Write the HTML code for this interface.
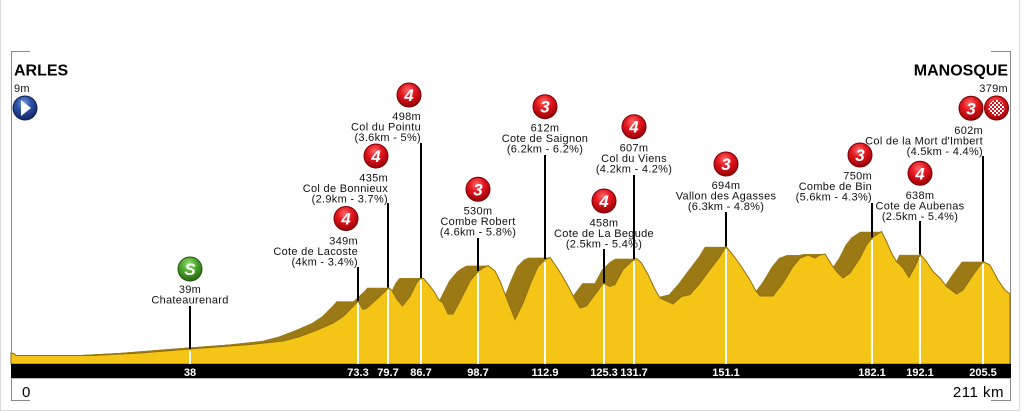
<!DOCTYPE html>
<html><head><meta charset="utf-8"><style>
html,body{margin:0;padding:0;background:#fff;width:1022px;height:412px;overflow:hidden}
svg{display:block}
text{font-family:"Liberation Sans",Arial,sans-serif}
.lb{font-size:11px;fill:#111;letter-spacing:0.3px}
.km{font-size:11px;font-weight:bold;fill:#fff;text-anchor:middle}
.bn{font-size:17px;font-weight:bold;font-style:italic;fill:#fff;text-anchor:middle}
</style></head><body>
<svg width="1022" height="412" viewBox="0 0 1022 412" xmlns="http://www.w3.org/2000/svg" xmlns:xlink="http://www.w3.org/1999/xlink">
<defs>
<radialGradient id="gr" cx="45%" cy="30%" r="70%"><stop offset="0" stop-color="#ff6a6a"/><stop offset="0.45" stop-color="#e3161e"/><stop offset="1" stop-color="#980006"/></radialGradient>
<radialGradient id="gg" cx="45%" cy="30%" r="70%"><stop offset="0" stop-color="#9fe07a"/><stop offset="0.45" stop-color="#4ea82f"/><stop offset="1" stop-color="#2a6a12"/></radialGradient>
<radialGradient id="gb" cx="45%" cy="30%" r="70%"><stop offset="0" stop-color="#7a9be6"/><stop offset="0.45" stop-color="#2c4fa3"/><stop offset="1" stop-color="#122768"/></radialGradient>
<pattern id="chk" x="0" y="0" width="4" height="4" patternUnits="userSpaceOnUse"><rect width="4" height="4" fill="#d8141c"/><rect width="2" height="2" fill="#fff"/><rect x="2" y="2" width="2" height="2" fill="#fff"/></pattern>
<clipPath id="clipR"><rect x="11" y="0" width="1000" height="364"/></clipPath>
<polygon id="prof" points="11,353 14,353.5 16,355.5 93,355.5 140,353 190,349 230,346 250,344.5 283,341 300,336.5 317,330 333,323 343,316.5 353,306.5 358,301 363,309.5 367,308 378,298 385,291.5 388.5,287.5 392,290.5 397,299.5 402.5,306 410,296.5 416.5,283 420.5,278 423.5,278.5 430,286 435,293 438.5,299.5 443,303 448,314 453,314 460,301 470,281 478,271.5 483,268 488,265.5 495,271 500,281 506.5,298 515,319.5 523,303 531.5,281 538,266.5 545,259.5 550,257.5 555,264.5 561.5,274.5 568,286 575,299.5 580,308 586.5,306 595,294.5 603.5,283 610,286.5 615,284.5 623,269.5 631.5,261.5 636.5,258.5 641.5,263 648,274.5 655,289.5 660,298 673,304 681.5,296.5 690,294.5 700,283 710,269.5 720,256.5 726,246.5 731.5,253 740,264.5 750,280 755,289.5 760,296 773,296 783,283 793,266.5 800,258 808,255 815,258 820,255 825,254 831.5,264.5 836.5,271.5 843,278 850,273 860,258 866.5,245 872.5,237.5 881.5,231.5 886.5,241.5 891.5,253 896.5,261.5 903,268 909,277.5 915,266.5 920.5,254.5 926.5,261.5 933,271.5 940,278 946.5,286.5 956.5,294 963,290 973,275 983,261.5 990,265 998,280 1005,290 1010,294 1010,364 11,364"/>
</defs>

<!-- outer border -->
<line x1="0.5" y1="0" x2="0.5" y2="411" stroke="#d9d9d9" stroke-width="1"/>
<line x1="1019.5" y1="0" x2="1019.5" y2="411" stroke="#d9d9d9" stroke-width="1"/>
<line x1="0" y1="410.5" x2="1020" y2="410.5" stroke="#d9d9d9" stroke-width="1"/>

<!-- inner frame -->
<path d="M30,51.5 H11.5 V400.5 H30" fill="none" stroke="#8a8a8a" stroke-width="1"/>
<path d="M991,51.5 H1010.5 V400.5 H991" fill="none" stroke="#8a8a8a" stroke-width="1"/>

<!-- shadow extrusion -->
<g clip-path="url(#clipR)" fill="#9b7a16">
<use xlink:href="#prof" x="-1"/><use xlink:href="#prof" x="-2"/><use xlink:href="#prof" x="-3"/><use xlink:href="#prof" x="-4"/><use xlink:href="#prof" x="-5"/><use xlink:href="#prof" x="-6"/><use xlink:href="#prof" x="-7"/><use xlink:href="#prof" x="-8"/><use xlink:href="#prof" x="-9"/><use xlink:href="#prof" x="-10"/><use xlink:href="#prof" x="-11"/><use xlink:href="#prof" x="-12"/><use xlink:href="#prof" x="-13"/><use xlink:href="#prof" x="-14"/><use xlink:href="#prof" x="-15"/><use xlink:href="#prof" x="-16"/><use xlink:href="#prof" x="-17"/><use xlink:href="#prof" x="-18"/><use xlink:href="#prof" x="-19"/><use xlink:href="#prof" x="-20"/><use xlink:href="#prof" x="-21"/>
</g>
<use xlink:href="#prof" fill="#f4c416" stroke="#8f6e10" stroke-width="1"/>

<!-- white lines in profile -->
<g stroke="#fff" stroke-width="2">
<line x1="190" y1="351" x2="190" y2="364"/>
<line x1="358" y1="303" x2="358" y2="364"/>
<line x1="388" y1="290" x2="388" y2="364"/>
<line x1="421" y1="280" x2="421" y2="364"/>
<line x1="478" y1="273" x2="478" y2="364"/>
<line x1="545" y1="262" x2="545" y2="364"/>
<line x1="604" y1="285" x2="604" y2="364"/>
<line x1="634" y1="261" x2="634" y2="364"/>
<line x1="726" y1="249" x2="726" y2="364"/>
<line x1="872" y1="240" x2="872" y2="364"/>
<line x1="920" y1="257" x2="920" y2="364"/>
<line x1="983" y1="264" x2="983" y2="364"/>
</g>

<!-- black leader lines -->
<g stroke="#000" stroke-width="2">
<line x1="190" y1="306" x2="190" y2="349"/>
<line x1="358" y1="267" x2="358" y2="301"/>
<line x1="388" y1="203" x2="388" y2="287.5"/>
<line x1="421" y1="143" x2="421" y2="278"/>
<line x1="478" y1="238" x2="478" y2="271"/>
<line x1="545" y1="155" x2="545" y2="259"/>
<line x1="604" y1="249" x2="604" y2="283"/>
<line x1="634" y1="175" x2="634" y2="259"/>
<line x1="726" y1="212" x2="726" y2="246.5"/>
<line x1="872" y1="203" x2="872" y2="237.5"/>
<line x1="920" y1="221" x2="920" y2="254.5"/>
<line x1="983" y1="156" x2="983" y2="261.5"/>
</g>

<!-- bottom bar -->
<rect x="11" y="364" width="1000" height="14" fill="#000"/>
<line x1="11" y1="378.5" x2="1011" y2="378.5" stroke="#bbb" stroke-width="1"/>
<text class="km" x="190" y="376">38</text>
<text class="km" x="358" y="376">73.3</text>
<text class="km" x="388" y="376">79.7</text>
<text class="km" x="421" y="376">86.7</text>
<text class="km" x="478" y="376">98.7</text>
<text class="km" x="545" y="376">112.9</text>
<text class="km" x="604" y="376">125.3</text>
<text class="km" x="634" y="376">131.7</text>
<text class="km" x="726" y="376">151.1</text>
<text class="km" x="872" y="376">182.1</text>
<text class="km" x="920" y="376">192.1</text>
<text class="km" x="983" y="376">205.5</text>

<text x="22" y="397" style="font-size:15px;fill:#000">0</text>
<text x="1004" y="397" text-anchor="end" style="font-size:15px;fill:#000;letter-spacing:0.5px">211 km</text>

<!-- start / finish -->
<text x="14" y="75.5" style="font-size:16px;font-weight:bold;fill:#000">ARLES</text>
<text x="14" y="92" class="lb">9m</text>
<circle cx="25" cy="108" r="12" fill="url(#gb)" stroke="#0d1f55" stroke-width="1"/>
<polygon points="21,100 31,108 21,116" fill="#fff"/>

<text x="1008" y="75.5" text-anchor="end" style="font-size:16px;font-weight:bold;fill:#000">MANOSQUE</text>
<text x="1008" y="92" text-anchor="end" class="lb">379m</text>
<circle cx="996.5" cy="108" r="12" fill="url(#gr)" stroke="#7a0005" stroke-width="1"/>
<circle cx="996.5" cy="108" r="8" fill="url(#chk)"/>

<!-- sprint -->
<circle cx="190" cy="269" r="12" fill="url(#gg)" stroke="#24570e" stroke-width="1"/>
<text class="bn" x="190" y="275">S</text>
<text class="lb" x="190" y="293" text-anchor="middle">39m</text>
<text class="lb" x="190" y="303.5" text-anchor="middle">Chateaurenard</text>

<!-- climbs -->
<g>
<circle cx="346" cy="218.5" r="12" fill="url(#gr)" stroke="#7a0005" stroke-width="1"/><text class="bn" x="346" y="224.5">4</text>
<text class="lb" x="358" y="244.7" text-anchor="end">349m</text>
<text class="lb" x="358" y="255.2" text-anchor="end">Cote de Lacoste</text>
<text class="lb" x="358" y="265.7" text-anchor="end">(4km - 3.4%)</text>
</g>
<g>
<circle cx="376" cy="156" r="12" fill="url(#gr)" stroke="#7a0005" stroke-width="1"/><text class="bn" x="376" y="162">4</text>
<text class="lb" x="388" y="181.3" text-anchor="end">435m</text>
<text class="lb" x="388" y="191.8" text-anchor="end">Col de Bonnieux</text>
<text class="lb" x="388" y="202.3" text-anchor="end">(2.9km - 3.7%)</text>
</g>
<g>
<circle cx="409" cy="95" r="12" fill="url(#gr)" stroke="#7a0005" stroke-width="1"/><text class="bn" x="409" y="101">4</text>
<text class="lb" x="421" y="120" text-anchor="end">498m</text>
<text class="lb" x="421" y="130.5" text-anchor="end">Col du Pointu</text>
<text class="lb" x="421" y="141" text-anchor="end">(3.6km - 5%)</text>
</g>
<g>
<circle cx="478" cy="189.3" r="12" fill="url(#gr)" stroke="#7a0005" stroke-width="1"/><text class="bn" x="478" y="195.3">3</text>
<text class="lb" x="478" y="214.7" text-anchor="middle">530m</text>
<text class="lb" x="478" y="225.2" text-anchor="middle">Combe Robert</text>
<text class="lb" x="478" y="235.7" text-anchor="middle">(4.6km - 5.8%)</text>
</g>
<g>
<circle cx="545" cy="106.7" r="12" fill="url(#gr)" stroke="#7a0005" stroke-width="1"/><text class="bn" x="545" y="112.7">3</text>
<text class="lb" x="545" y="131.3" text-anchor="middle">612m</text>
<text class="lb" x="545" y="141.8" text-anchor="middle">Cote de Saignon</text>
<text class="lb" x="545" y="152.3" text-anchor="middle">(6.2km - 6.2%)</text>
</g>
<g>
<circle cx="604" cy="201" r="12" fill="url(#gr)" stroke="#7a0005" stroke-width="1"/><text class="bn" x="604" y="207">4</text>
<text class="lb" x="604" y="226.3" text-anchor="middle">458m</text>
<text class="lb" x="604" y="236.8" text-anchor="middle">Cote de La Begude</text>
<text class="lb" x="604" y="247.3" text-anchor="middle">(2.5km - 5.4%)</text>
</g>
<g>
<circle cx="634" cy="126.7" r="12" fill="url(#gr)" stroke="#7a0005" stroke-width="1"/><text class="bn" x="634" y="132.7">4</text>
<text class="lb" x="634" y="151.3" text-anchor="middle">607m</text>
<text class="lb" x="634" y="161.8" text-anchor="middle">Col du Viens</text>
<text class="lb" x="634" y="172.3" text-anchor="middle">(4.2km - 4.2%)</text>
</g>
<g>
<circle cx="726" cy="164" r="12" fill="url(#gr)" stroke="#7a0005" stroke-width="1"/><text class="bn" x="726" y="170">3</text>
<text class="lb" x="726" y="189" text-anchor="middle">694m</text>
<text class="lb" x="726" y="199.5" text-anchor="middle">Vallon des Agasses</text>
<text class="lb" x="726" y="210" text-anchor="middle">(6.3km - 4.8%)</text>
</g>
<g>
<circle cx="860" cy="155" r="12" fill="url(#gr)" stroke="#7a0005" stroke-width="1"/><text class="bn" x="860" y="161">3</text>
<text class="lb" x="872" y="179.7" text-anchor="end">750m</text>
<text class="lb" x="872" y="190.2" text-anchor="end">Combe de Bin</text>
<text class="lb" x="872" y="200.7" text-anchor="end">(5.6km - 4.3%)</text>
</g>
<g>
<circle cx="920" cy="173.3" r="12" fill="url(#gr)" stroke="#7a0005" stroke-width="1"/><text class="bn" x="920" y="179.3">4</text>
<text class="lb" x="920" y="199" text-anchor="middle">638m</text>
<text class="lb" x="920" y="209.5" text-anchor="middle">Cote de Aubenas</text>
<text class="lb" x="920" y="220" text-anchor="middle">(2.5km - 5.4%)</text>
</g>
<g>
<circle cx="971" cy="108.3" r="12" fill="url(#gr)" stroke="#7a0005" stroke-width="1"/><text class="bn" x="971" y="114.3">3</text>
<text class="lb" x="983" y="134" text-anchor="end">602m</text>
<text class="lb" x="983" y="144.5" text-anchor="end">Col de la Mort d'Imbert</text>
<text class="lb" x="983" y="155" text-anchor="end">(4.5km - 4.4%)</text>
</g>
</svg>
</body></html>
